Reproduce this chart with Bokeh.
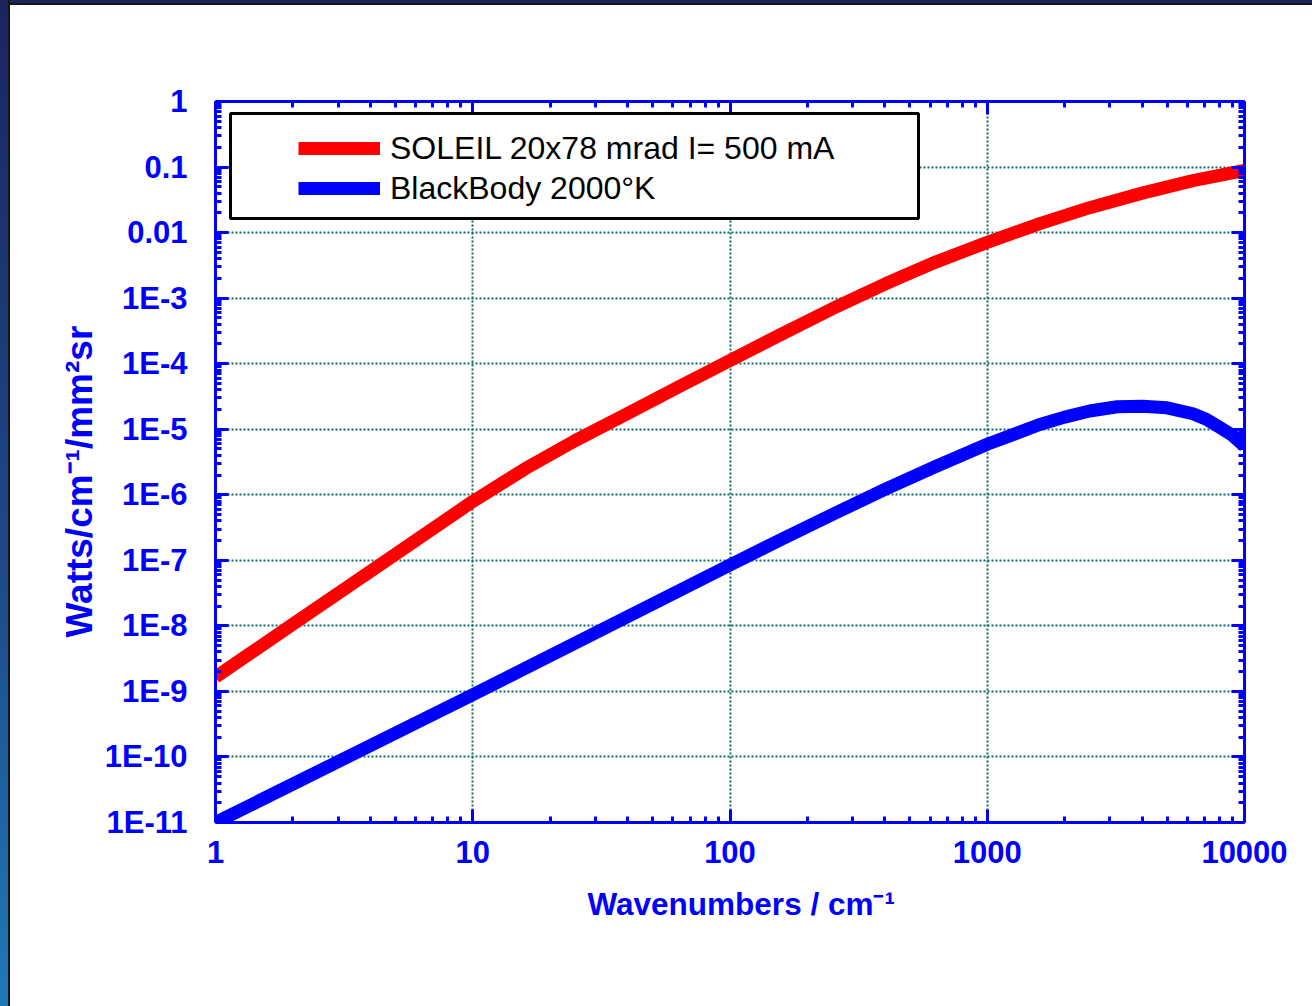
from bokeh.plotting import figure
from bokeh.models import (Range1d, FixedTicker, LogAxis, BoxAnnotation, Title,
                          Legend, LegendItem, Div)
from bokeh.layouts import row, column
from bokeh.embed import file_html
from bokeh.resources import INLINE

# ---------------- data ----------------
soleil_wn = [1, 2, 4, 10, 16, 25, 40, 63, 100, 158, 250, 400, 630, 1000,
             1600, 2500, 4000, 6300, 10000]
soleil_power = [1.65e-9, 1.06e-8, 6.8e-8, 7.9e-7, 2.5e-6, 6.7e-6, 1.74e-5, 4.4e-5,
                1.12e-4, 2.8e-4, 6.9e-4, 1.64e-3, 3.55e-3, 7.1e-3,
                1.37e-2, 2.4e-2, 4.0e-2, 6.2e-2, 8.9e-2]

bb_wn = [1, 10, 100, 158, 250, 400, 630, 1000, 1600, 2000, 2500, 3200, 4000,
         5000, 6300, 7100, 8000, 9000, 10000]
bb_power = [1.0e-11, 8.9e-10, 8.5e-8, 2.08e-7, 5.0e-7, 1.21e-6, 2.7e-6, 5.9e-6,
            1.18e-5, 1.53e-5, 1.9e-5, 2.2e-5, 2.25e-5, 2.12e-5, 1.72e-5, 1.42e-5,
            1.07e-5, 8.0e-6, 5.5e-6]

series_labels = ["SOLEIL 20x78 mrad I= 500 mA", "BlackBody 2000°K"]
x_title = "Wavenumbers / cm\u207b\u00b9"
y_title = "Watts/cm\u207b\u00b9/mm\u00b2sr"

x_ticks = [1, 10, 100, 1000, 10000]
x_tick_labels = ["1", "10", "100", "1000", "10000"]
y_ticks = [1e-11, 1e-10, 1e-9, 1e-8, 1e-7, 1e-6, 1e-5, 1e-4, 1e-3, 0.01, 0.1, 1.0]
y_tick_labels = ["1E-11", "1E-10", "1E-9", "1E-8", "1E-7", "1E-6", "1E-5", "1E-4",
                 "1E-3", "0.01", "0.1", "1"]

# ---------------- styling ----------------
BLUE = "#0000ff"
RED = "#ff0000"
GRID = "#0b6b6b"
FONT = "Liberation Sans"

W, H = 1302, 1001  # figure size (page offset by 10px left, 5px top)

p = figure(width=W, height=H, x_axis_type="log", y_axis_type="log",
           x_range=Range1d(1, 10000), y_range=Range1d(1e-11, 1),
           output_backend="svg", toolbar_location=None,
           min_border_left=205, min_border_right=68,
           min_border_top=96, min_border_bottom=184)
p.outline_line_color = None
p.background_fill_color = "white"
p.border_fill_color = "white"

x_minor = [k * 10.0 ** e for e in range(0, 4) for k in range(2, 10)]
y_minor = [k * 10.0 ** e for e in range(-11, 0) for k in range(2, 10)]
xticker = FixedTicker(ticks=x_ticks, minor_ticks=x_minor)
yticker = FixedTicker(ticks=y_ticks, minor_ticks=y_minor)

p.add_layout(LogAxis(ticker=xticker), "above")
p.add_layout(LogAxis(ticker=yticker), "right")

def style_axis(ax, ticker, labels):
    ax.ticker = ticker
    ax.axis_line_color = BLUE
    ax.axis_line_width = 3
    ax.major_tick_line_color = BLUE
    ax.major_tick_line_width = 3
    ax.major_tick_in = 13
    ax.major_tick_out = 0
    ax.minor_tick_line_color = BLUE
    ax.minor_tick_line_width = 3
    ax.minor_tick_in = 6
    ax.minor_tick_out = 0
    ax.major_label_overrides = labels
    ax.major_label_text_font = FONT
    ax.major_label_text_font_style = "bold"
    ax.major_label_text_color = BLUE
    ax.major_label_text_font_size = "31px"

xlabels = {t: l for t, l in zip(x_ticks, x_tick_labels)}
ylabels = {t: l for t, l in zip(y_ticks, y_tick_labels)}
style_axis(p.below[0], xticker, xlabels)
style_axis(p.left[0], yticker, ylabels)
style_axis(p.above[0], xticker, {t: "" for t in x_ticks})
style_axis(p.right[0], yticker, {t: "" for t in y_ticks})
p.below[0].major_label_standoff = 18
p.left[0].major_label_standoff = 28

for g in (p.xgrid[0], p.ygrid[0]):
    g.grid_line_color = GRID
    g.grid_line_width = 2
    g.grid_line_dash = "2 2"
p.xgrid[0].ticker = xticker
p.ygrid[0].ticker = yticker

r_red = p.line(soleil_wn, soleil_power, line_color=RED, line_width=13,
               line_join="round")
r_blue = p.line(bb_wn, bb_power, line_color=BLUE, line_width=13,
                line_join="round")

# legend frame (screen units are relative to the plot frame, y up)
box = BoxAnnotation(left=15, right=703, top=709, bottom=604,
                    left_units="screen", right_units="screen",
                    top_units="screen", bottom_units="screen",
                    fill_color="white", fill_alpha=1.0,
                    line_color="black", line_alpha=1.0, line_width=3)
p.add_layout(box)

legend = Legend(items=[LegendItem(label=series_labels[0], renderers=[r_red]),
                       LegendItem(label=series_labels[1], renderers=[r_blue])],
                location=(83, 614), border_line_color=None, background_fill_alpha=0,
                padding=0, spacing=0, margin=0, label_height=40, glyph_height=40,
                glyph_width=82, label_standoff=10,
                label_text_font=FONT, label_text_font_size="32px",
                label_text_color="black")
p.add_layout(legend)

# axis titles
p.add_layout(Title(text=x_title, align="left", offset=372, standoff=36,
                   text_font=FONT, text_font_style="bold", text_font_size="31.5px",
                   text_color=BLUE), "below")
p.add_layout(Title(text=y_title, align="left", offset=185, standoff=4,
                   text_font=FONT, text_font_style="bold", text_font_size="37px",
                   text_color=BLUE), "left")

# slide frame decorations
left_strip = Div(text="", width=10, height=1006, margin=0, styles={
    "background": "linear-gradient(to right, rgba(0,0,0,0) 8px, #151515 8px), "
                  "linear-gradient(to bottom, #1a2560, #1e4c8c 60%, #2079b6)"})
top_strip = Div(text="", width=W, height=5, margin=0, styles={
    "background": "linear-gradient(to bottom, #1b2658 3px, #151515 3px)"})

layout = row(left_strip, column(top_strip, p, spacing=0), spacing=0)

open("out.html", "w").write(file_html(layout, INLINE))
